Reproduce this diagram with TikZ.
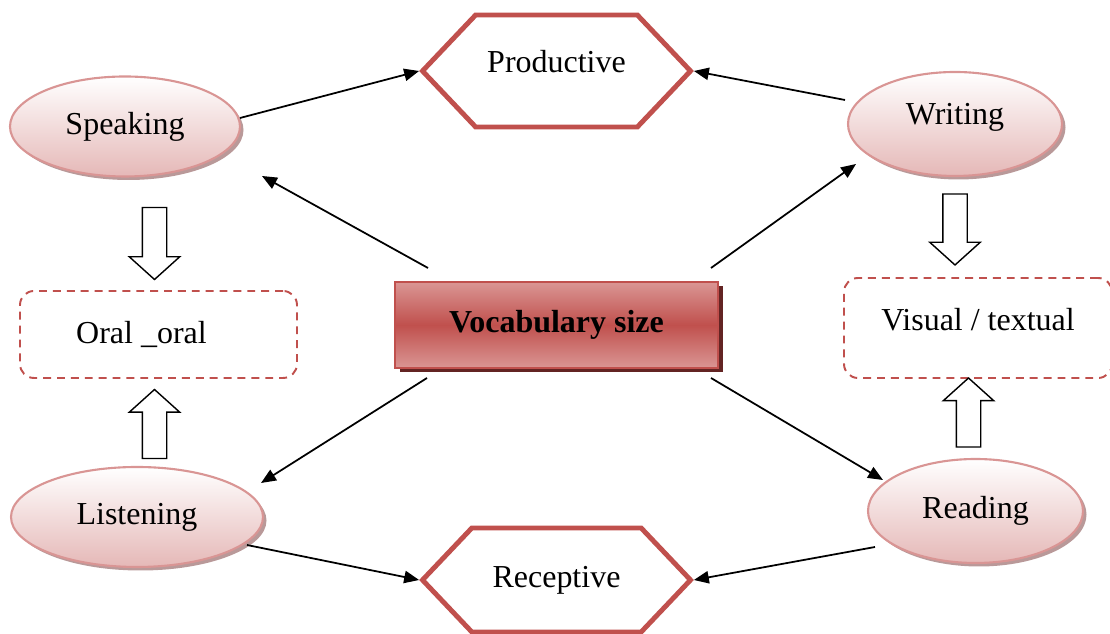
\documentclass[tikz,border=0pt]{standalone}
\usepackage{fontspec}
\setmainfont{Liberation Serif}
\usetikzlibrary{positioning,shapes.geometric,shapes.symbols,shapes.arrows,shadows,arrows.meta}

\definecolor{redline}{HTML}{C0504D}
\definecolor{redlight}{HTML}{DA9694}
\definecolor{pinkline}{HTML}{D99594}
\definecolor{pinkfill}{HTML}{E5B8B7}
\definecolor{darkred}{HTML}{632423}
\definecolor{shadowpink}{HTML}{A88080}

\tikzset{
  skill/.style={ellipse, draw=pinkline, line width=1.2pt, top color=white, bottom color=pinkfill,
    drop shadow={shadow xshift=0.07cm, shadow yshift=-0.07cm, fill=shadowpink, opacity=0.8}},
  mode/.style={signal, signal to=west and east, signal pointer angle=93, draw=redline,
    line width=2.8pt, minimum width=5.36cm, inner sep=0pt},
  channel/.style={rectangle, rounded corners=0.28cm, draw=redline, line width=1.1pt,
    dash pattern=on 4.5pt off 3.4pt},
  core/.style={rectangle, draw=redline, line width=1pt, top color=redlight, bottom color=redlight,
    middle color=redline, minimum width=6.46cm, minimum height=1.72cm,
    drop shadow={shadow xshift=0.09cm, shadow yshift=-0.09cm, fill=darkred, opacity=1},
    font=\fontsize{18.2}{22}\selectfont\bfseries},
  flow/.style={single arrow, draw, fill=white, line width=0.8pt, inner xsep=0pt, inner ysep=0.23cm,
    single arrow head extend=0.26cm, single arrow tip angle=96},
  conn/.style={-{Triangle[length=8.5pt,width=7pt]}, line width=1pt}
}

\begin{document}
\begin{tikzpicture}[on grid,font=\fontsize{18.2}{22}\selectfont]
   \useasboundingbox (0,0) rectangle (22.2,12.68);
   \node[core]    (voc)                                       at (11.13,6.18) {Vocabulary size};
   \node[skill,minimum width=4.6cm,minimum height=2cm]   (spk)  [above left=3.97cm and 8.63cm of voc]  {Speaking};
   \node[skill,minimum width=4.28cm,minimum height=2.08cm] (wrt) [above right=4.02cm and 7.97cm of voc] {\raisebox{0.14cm}[\height][\depth]{Writing}};
   \node[skill,minimum width=5.04cm,minimum height=2cm]  (lst)  [below left=3.84cm and 8.39cm of voc]  {Listening};
   \node[skill,minimum width=4.3cm,minimum height=2.08cm] (rdg)  [below right=3.72cm and 8.38cm of voc] {Reading};
   \node[mode,minimum height=2.24cm]   (prod) [above=5.08cm of voc] {\raisebox{0.18cm}[\height][\depth]{Productive}};
   \node[mode,minimum height=2.08cm]   (rec)  [below=5.10cm of voc] {Receptive};
   \node[channel,minimum width=5.54cm,minimum height=1.74cm] (ora) [below left=0.19cm and 7.96cm of voc] {Oral \_oral\kern0.68cm};
   \node[channel,minimum width=5.36cm,minimum height=2cm]    (vis) [below right=0.06cm and 8.43cm of voc] {\raisebox{0.16cm}[\height][\depth]{Visual / textual}};
   \node[flow,rotate=-90,minimum height=1.44cm] (a_spk) [below right=2.23cm and 0.59cm of spk] {};
   \node[flow,rotate=90,minimum height=1.38cm]  (a_lst) [above right=1.75cm and 0.35cm of lst] {};
   \node[flow,rotate=-90,minimum height=1.42cm] (a_wrt) [below=2.0cm of wrt] {};
   \node[flow,rotate=90,minimum height=1.38cm]  (a_rdg) [above left=1.86cm and 0.14cm of rdg] {};
    \path[conn]
    ([shift={(2.30,0.17)}]spk.center)   edge (prod.west)
    ([shift={(-2.20,0.48)}]wrt.center)  edge (prod.east)
    ([shift={(-2.57,1.14)}]voc.center)  edge ([shift={(2.74,-0.99)}]spk.center)
    ([shift={(3.09,1.14)}]voc.center)   edge ([shift={(-1.98,-0.80)}]wrt.center)
    ([shift={(-2.59,-1.06)}]voc.center) edge ([shift={(2.48,0.68)}]lst.center)
    ([shift={(3.09,-1.06)}]voc.center)  edge ([shift={(-1.85,0.62)}]rdg.center)
    ([shift={(2.20,-0.56)}]lst.center)  edge (rec.west)
    ([shift={(-2.01,-0.72)}]rdg.center) edge (rec.east);
\end{tikzpicture}
\end{document}
